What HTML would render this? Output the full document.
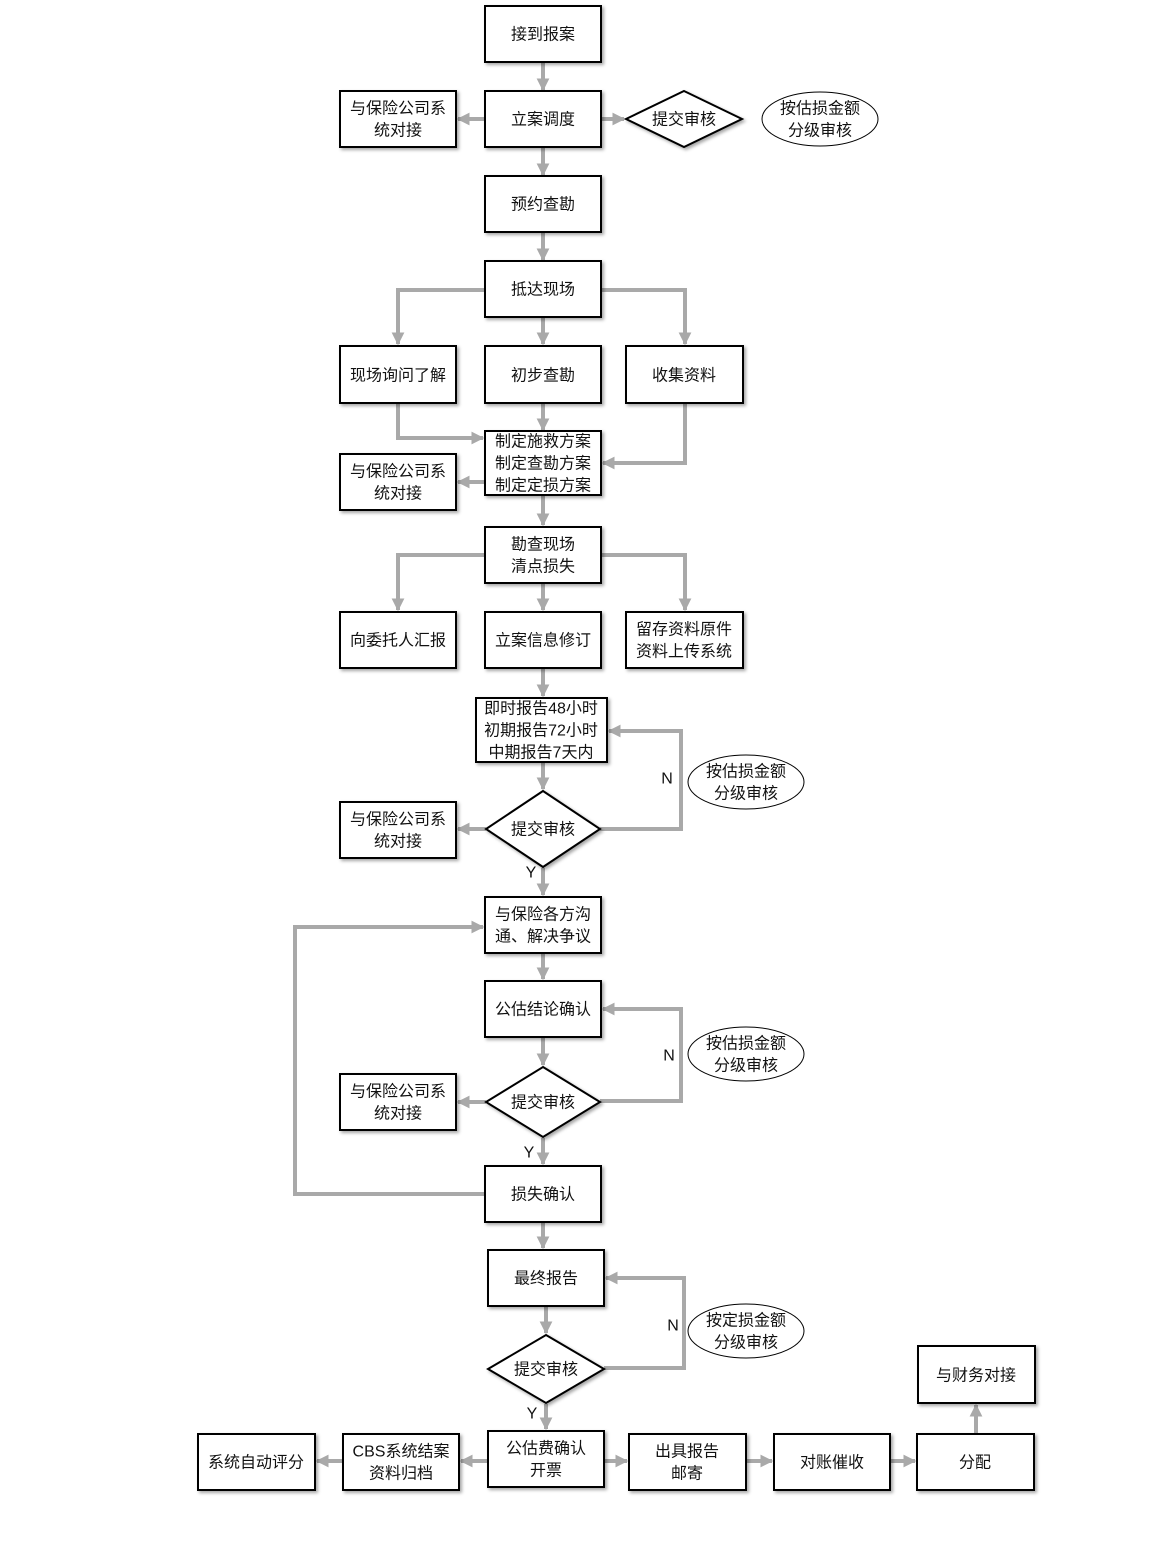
<!DOCTYPE html>
<html><head><meta charset="utf-8"><style>
html,body{margin:0;padding:0;background:#fff;}
svg{display:block;}
text{font-family:"Liberation Sans","Noto Sans CJK SC",sans-serif;font-size:16px;fill:#111;text-anchor:middle;dominant-baseline:central;}
.t{transform:translateY(1px);}
.b{fill:#fff;stroke:#000;stroke-width:2;filter:url(#sh);}
.c{fill:none;stroke:#a9a9a9;stroke-width:4;marker-end:url(#ar);}
</style></head><body>
<svg width="1155" height="1566" viewBox="0 0 1155 1566" xmlns="http://www.w3.org/2000/svg">
<defs>
<filter id="sh" x="-10%" y="-10%" width="130%" height="130%"><feDropShadow dx="2" dy="2" stdDeviation="1.5" flood-color="#000" flood-opacity="0.35"/></filter>
<marker id="ar" viewBox="0 0 10 10" refX="9" refY="5" markerWidth="3.2" markerHeight="3.2" orient="auto" markerUnits="strokeWidth"><path d="M0,0 L10,5 L0,10 z" fill="#a9a9a9"/></marker>
</defs>

<path class="c" d="M543,63 V90"/>
<path class="c" d="M485,119 H458"/>
<path class="c" d="M601,119 H624"/>
<path class="c" d="M543,148 V175"/>
<path class="c" d="M543,233 V260"/>
<path class="c" d="M485,290 H398 V344"/>
<path class="c" d="M543,318 V344"/>
<path class="c" d="M601,290 H685 V344"/>
<path class="c" d="M398,404 V438 H483"/>
<path class="c" d="M543,404 V430"/>
<path class="c" d="M685,404 V463 H603"/>
<path class="c" d="M485,482 H458"/>
<path class="c" d="M543,496 V525"/>
<path class="c" d="M485,555 H398 V610"/>
<path class="c" d="M543,584 V610"/>
<path class="c" d="M601,555 H685 V610"/>
<path class="c" d="M543,669 V696"/>
<path class="c" d="M543,763 V789"/>
<path class="c" d="M600,829 H681 V731 H609"/>
<path class="c" d="M486,829 H458"/>
<path class="c" d="M543,868 V895"/>
<path class="c" d="M543,954 V979"/>
<path class="c" d="M543,1038 V1065"/>
<path class="c" d="M600,1101 H681 V1009 H603"/>
<path class="c" d="M486,1102 H458"/>
<path class="c" d="M543,1138 V1164"/>
<path class="c" d="M485,1194 H295 V927 H483"/>
<path class="c" d="M543,1223 V1248"/>
<path class="c" d="M546,1307 V1333"/>
<path class="c" d="M604,1368 H684 V1278 H606"/>
<path class="c" d="M546,1404 V1429"/>
<path class="c" d="M488,1461 H461"/>
<path class="c" d="M343,1461 H317"/>
<path class="c" d="M604,1461 H627"/>
<path class="c" d="M746,1461 H772"/>
<path class="c" d="M890,1461 H915"/>
<path class="c" d="M976,1433 V1405"/>

<rect class="b" x="485" y="6" width="116" height="56"/><text class="t" x="543" y="34">接到报案</text>
<rect class="b" x="485" y="91" width="116" height="56"/><text class="t" x="543" y="119">立案调度</text>
<rect class="b" x="340" y="91" width="116" height="56"/><text class="t" x="398" y="108">与保险公司系</text><text class="t" x="398" y="130">统对接</text>
<polygon class="b" points="684,91 742,119 684,147 626,119"/><text class="t" x="684" y="119">提交审核</text>
<ellipse cx="820" cy="119" rx="58" ry="27" fill="#fff" stroke="#000" stroke-width="1"/><text class="t" x="820" y="108">按估损金额</text><text class="t" x="820" y="130">分级审核</text>
<rect class="b" x="485" y="176" width="116" height="56"/><text class="t" x="543" y="204">预约查勘</text>
<rect class="b" x="485" y="261" width="116" height="56"/><text class="t" x="543" y="289">抵达现场</text>
<rect class="b" x="340" y="346" width="116" height="57"/><text class="t" x="398" y="375">现场询问了解</text>
<rect class="b" x="485" y="346" width="116" height="57"/><text class="t" x="543" y="375">初步查勘</text>
<rect class="b" x="626" y="346" width="117" height="57"/><text class="t" x="684" y="375">收集资料</text>
<rect class="b" x="485" y="431" width="116" height="64"/><text class="t" x="543" y="441">制定施救方案</text><text class="t" x="543" y="463">制定查勘方案</text><text class="t" x="543" y="485">制定定损方案</text>
<rect class="b" x="340" y="454" width="116" height="56"/><text class="t" x="398" y="471">与保险公司系</text><text class="t" x="398" y="493">统对接</text>
<rect class="b" x="485" y="527" width="116" height="56"/><text class="t" x="543" y="544">勘查现场</text><text class="t" x="543" y="566">清点损失</text>
<rect class="b" x="340" y="612" width="116" height="56"/><text class="t" x="398" y="640">向委托人汇报</text>
<rect class="b" x="485" y="612" width="116" height="56"/><text class="t" x="543" y="640">立案信息修订</text>
<rect class="b" x="626" y="612" width="117" height="56"/><text class="t" x="684" y="629">留存资料原件</text><text class="t" x="684" y="651">资料上传系统</text>
<rect class="b" x="476" y="698" width="131" height="64"/><text class="t" x="541" y="708">即时报告48小时</text><text class="t" x="541" y="730">初期报告72小时</text><text class="t" x="541" y="752">中期报告7天内</text>
<polygon class="b" points="543,791 600,829 543,867 486,829"/><text class="t" x="543" y="829">提交审核</text>
<rect class="b" x="340" y="802" width="116" height="56"/><text class="t" x="398" y="819">与保险公司系</text><text class="t" x="398" y="841">统对接</text>
<ellipse cx="746" cy="782" rx="58" ry="27" fill="#fff" stroke="#000" stroke-width="1"/><text class="t" x="746" y="771">按估损金额</text><text class="t" x="746" y="793">分级审核</text>
<text class="t" x="667" y="778">N</text><text class="t" x="531" y="872">Y</text>
<rect class="b" x="485" y="897" width="116" height="56"/><text class="t" x="543" y="914">与保险各方沟</text><text class="t" x="543" y="936">通、解决争议</text>
<rect class="b" x="485" y="981" width="116" height="56"/><text class="t" x="543" y="1009">公估结论确认</text>
<ellipse cx="746" cy="1054" rx="58" ry="27" fill="#fff" stroke="#000" stroke-width="1"/><text class="t" x="746" y="1043">按估损金额</text><text class="t" x="746" y="1065">分级审核</text>
<text class="t" x="669" y="1055">N</text>
<polygon class="b" points="543,1067 600,1102 543,1137 486,1102"/><text class="t" x="543" y="1102">提交审核</text>
<rect class="b" x="340" y="1074" width="116" height="56"/><text class="t" x="398" y="1091">与保险公司系</text><text class="t" x="398" y="1113">统对接</text>
<text class="t" x="529" y="1152">Y</text>
<rect class="b" x="485" y="1166" width="116" height="56"/><text class="t" x="543" y="1194">损失确认</text>
<rect class="b" x="488" y="1250" width="116" height="56"/><text class="t" x="546" y="1278">最终报告</text>
<ellipse cx="746" cy="1331" rx="58" ry="27" fill="#fff" stroke="#000" stroke-width="1"/><text class="t" x="746" y="1320">按定损金额</text><text class="t" x="746" y="1342">分级审核</text>
<text class="t" x="673" y="1325">N</text>
<polygon class="b" points="546,1335 604,1369 546,1403 488,1369"/><text class="t" x="546" y="1369">提交审核</text>
<text class="t" x="532" y="1413">Y</text>
<rect class="b" x="198" y="1434" width="117" height="56"/><text class="t" x="256" y="1462">系统自动评分</text>
<rect class="b" x="343" y="1434" width="116" height="56"/><text class="t" x="401" y="1451">CBS系统结案</text><text class="t" x="401" y="1473">资料归档</text>
<rect class="b" x="488" y="1431" width="116" height="56"/><text class="t" x="546" y="1448">公估费确认</text><text class="t" x="546" y="1470">开票</text>
<rect class="b" x="629" y="1434" width="117" height="56"/><text class="t" x="687" y="1451">出具报告</text><text class="t" x="687" y="1473">邮寄</text>
<rect class="b" x="774" y="1434" width="116" height="56"/><text class="t" x="832" y="1462">对账催收</text>
<rect class="b" x="917" y="1434" width="117" height="56"/><text class="t" x="975" y="1462">分配</text>
<rect class="b" x="918" y="1346" width="117" height="57"/><text class="t" x="976" y="1375">与财务对接</text>
</svg>
</body></html>
